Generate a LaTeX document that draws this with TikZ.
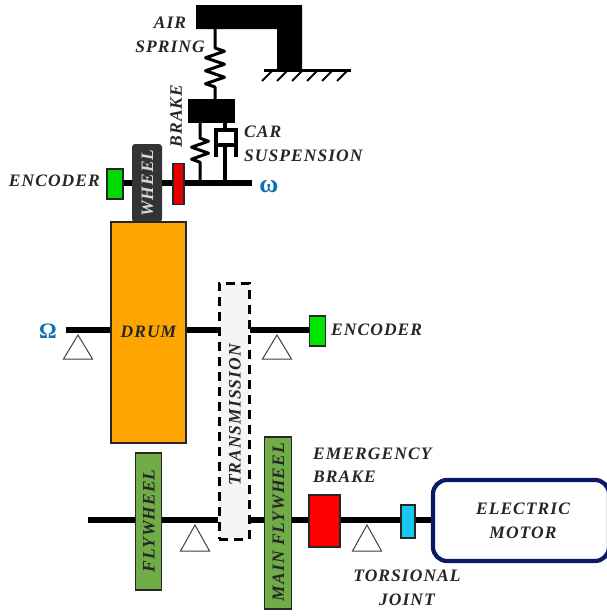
\documentclass[tikz,border=0pt]{standalone}
\usepackage{fontspec}
\setmainfont{Liberation Serif}[LetterSpace=6]
\usetikzlibrary{decorations.pathmorphing,calc}
\definecolor{shaftblack}{HTML}{000000}
\definecolor{orangedrum}{HTML}{FFA500}
\definecolor{flygreen}{HTML}{70AD47}
\definecolor{navybox}{HTML}{0A1A66}
\definecolor{omegablue}{HTML}{0F6FB5}
\definecolor{cyanjoint}{HTML}{18C8F0}
\tikzset{
  x=1pt,y=-1pt,
  lab/.style={font=\fontsize{17.5}{23.5}\selectfont\itshape\bfseries,text=black!85,inner sep=0pt,align=center},
  shaft/.style={line width=5.5pt,shaftblack},
  thinrod/.style={line width=3.4pt,shaftblack},
  mass/.style={fill=black,draw=none},
  part/.style={draw=black!85,line width=1.4pt,inner sep=0pt},
  bearing/.style={draw=black!75,line width=1pt,fill=white},
  springline/.style={line width=3pt,line join=round,decorate,decoration={zigzag,segment length=13pt,amplitude=9.5pt,pre length=19pt,post length=7pt}},
}
\begin{document}
\begin{tikzpicture}
\useasboundingbox (0,0) rectangle (606,616);
% ground and frame
\fill (196,5) -- (302,5) -- (302,70) -- (277,70) -- (277,29) -- (196,29) -- cycle;
\coordinate (gl) at (264,70);
\coordinate (gr) at (351,70);
\draw[line width=3pt] (gl) -- (gr);
\foreach \x in {272,287,302,317,332,347}
  \draw[line width=2pt] (\x,71) -- (\x-10,81);
% masses
\node[mass,minimum width=47pt,minimum height=24pt,inner sep=0pt] (mass) at (211.5,111) {};
\coordinate (frameA) at (215,29);
\draw[springline] (frameA) -- (mass.north -| frameA);
% shaft upper
\coordinate (shaftR) at (252,183);
\coordinate (sprB) at (200,183);
\coordinate (rodB) at (225,183);
\draw[shaft] (120,183) -- (shaftR);
\draw[line width=3pt,line join=round,decorate,decoration={zigzag,segment length=12pt,amplitude=8.5pt,pre length=15pt,post length=15pt}] (mass.south -| sprB) -- (sprB);
% damper
\draw[thinrod] (225,123) -- (225,130);
\draw[line width=3.6pt] (216,157) -- (216,130) -- (236,130) -- (236,157);
\draw[line width=3.6pt] (216,145) -- (236,145);
\draw[thinrod] (225,145) -- (rodB);
% wheel, encoder, brake
\node[part,fill=green!85!black,minimum width=16pt,minimum height=30pt] (enc1) at (115,184) {};
\node[draw=none,fill=black!80,rounded corners=3pt,minimum width=30pt,minimum height=78pt,inner sep=0pt] (wheel) at (147,183) {};
\node[rotate=90,lab,text=white!85!black] at (147.5,183) {WHEEL};
\node[part,fill=red!90!black,minimum width=11pt,minimum height=41pt] (brk) at (178.5,184) {};
% drum shaft
\coordinate (omL) at (66,330);
\coordinate (trL) at (220,330);
\coordinate (trR) at (250,330);
\node[part,fill=orangedrum,minimum width=75pt,minimum height=221pt] (drum) at (148.5,332.5) {};
\draw[shaft] (omL) -- (drum.west |- omL);
\draw[shaft] (drum.east |- trL) -- (trL);
\node[lab] at (148.5,332) {DRUM};
\node[part,fill=green!90!black,minimum width=16pt,minimum height=30pt] (enc2) at (317.5,331) {};
\draw[shaft] (trR) -- (enc2.west |- trR);
% transmission
\node[draw=black,line width=3pt,fill=black!4,minimum width=30pt,minimum height=256pt,inner sep=0pt,dash pattern=on 9pt off 6pt] (trans) at (234,411) {};
\node[lab,rotate=90] at (235,415) {TRANSMISSION};
% lower shaft
\coordinate (lowL) at (88,520);
\coordinate (lowA) at (218,520);
\coordinate (lowB) at (250,520);
\node[draw=navybox,line width=4.2pt,fill=white,rounded corners=14pt,minimum width=176pt,minimum height=81pt,inner sep=0pt] (motor) at (521,520.5) {};
\draw[shaft] (lowL) -- (lowA);
\draw[shaft] (lowB) -- (motor.west |- lowB);
\node[part,fill=flygreen,minimum width=26pt,minimum height=137pt] (fly) at (148.5,521.5) {};
\node[part,fill=flygreen,minimum width=27pt,minimum height=172pt] (mainfly) at (278,523) {};
\node[part,fill=red,minimum width=31pt,minimum height=52pt] (ebrk) at (324.5,521) {};
\node[part,fill=cyanjoint,minimum width=14pt,minimum height=33pt] (tj) at (408,521.5) {};
\node[lab,rotate=90] at (149,521) {FLYWHEEL};
\node[lab,rotate=90] at (278.5,522) {MAIN FLYWHEEL};
% bearings
\foreach \c/\ya/\yb in {78/335/359,277/335/359,195/525/551,367/525/551}
  \draw[bearing] (\c,\ya) -- (\c+14.5,\yb) -- (\c-14.5,\yb) -- cycle;
% labels
\node[lab] at (170,35) {AIR\\SPRING};
\node[lab,rotate=90] at (176,116) {BRAKE};
\node[lab,align=left,anchor=west] at (244,144) {CAR\\SUSPENSION};
\node[lab,anchor=east] at (100,181) {ENCODER};
\node[lab,anchor=west] at (331,330) {ENCODER};
\node[lab,align=left,anchor=west] at (313,465) {EMERGENCY\\BRAKE};
\node[lab] at (407,588) {TORSIONAL\\JOINT};
\node[lab] at (523,521) {ELECTRIC\\MOTOR};
\node[font=\fontsize{26}{26}\selectfont\bfseries,text=omegablue,inner sep=0pt] at (269,187) {ω};
\node[font=\fontsize{22}{22}\selectfont\bfseries,text=omegablue,inner sep=0pt] at (48,331) {Ω};
\end{tikzpicture}
\end{document}
